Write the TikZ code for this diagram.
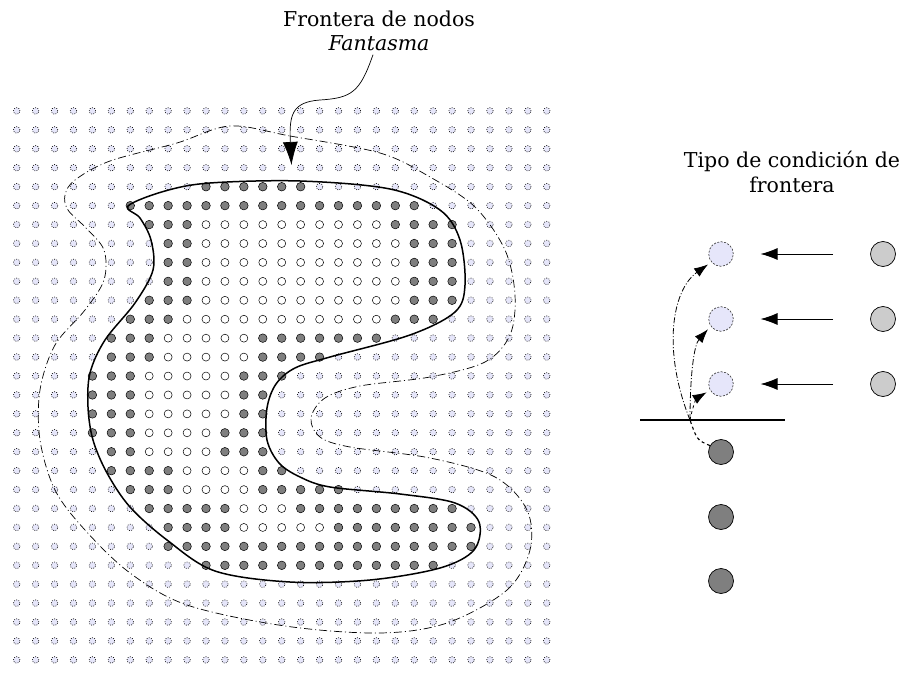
\documentclass[tikz,border=0pt]{standalone}
\usepackage{fontspec}
\setmainfont{DejaVu Serif}
\usetikzlibrary{arrows.meta}

\definecolor{ghostfill}{HTML}{E6E6FA}
\definecolor{bndfill}{HTML}{7F7F7F}
\definecolor{dirfill}{HTML}{CCCCCC}

% grid geometry (origin, spacing)
\def\gx{16.7}
\def\gy{111}
\def\gd{18.93}
\newcount\cellcol
% one grid row: #1 = row index, #2 = runs type/count (o ghost, g boundary, w interior)
\newcommand\cellrow[2]{%
  \global\cellcol=0
  \foreach \t/\n in {#2}{%
    \foreach \i in {1,...,\n}{%
      \node[cell\t] (c-#1-\the\cellcol) at ({\gx+\the\cellcol*\gd},{\gy+#1*\gd}) {};
      \global\advance\cellcol by 1
    }}}

\tikzset{
  cello/.style={circle, inner sep=0pt, minimum size=6.6pt, fill=ghostfill,
    draw=black, line width=0.6pt, dash pattern=on 0.9pt off 1.4pt},
  cellg/.style={circle, inner sep=0pt, minimum size=8.6pt, fill=bndfill,
    draw=black, line width=0.5pt},
  cellw/.style={circle, inner sep=0pt, minimum size=8pt, fill=white,
    draw=black, line width=0.5pt},
  boundary/.style={line width=1.5pt},
  halo/.style={line width=0.7pt, dash pattern=on 8pt off 3pt on 1pt off 3pt},
  lbl/.style={align=center, font=\fontsize{20.5}{24.5}\selectfont},
  legghost/.style={circle, inner sep=0pt, minimum size=24.6pt, fill=ghostfill,
    draw=black!80, line width=0.6pt, dash pattern=on 2pt off 1.5pt},
  legdir/.style={circle, inner sep=0pt, minimum size=25pt, fill=dirfill,
    draw=black, line width=0.7pt},
  legbnd/.style={circle, inner sep=0pt, minimum size=25pt, fill=bndfill,
    draw=black, line width=0.7pt},
  legarrow/.style={line width=0.8pt, -{Latex[length=17pt,width=12pt]}},
  copyarrow/.style={line width=0.8pt, -{Latex[length=14pt,width=10pt]}, shorten >=4pt},
}

\begin{document}
\begin{tikzpicture}[x=1pt,y=-1pt]
\useasboundingbox (0,0) rectangle (905,679);

% node lattice
\cellrow{0}{o/29}
\cellrow{1}{o/29}
\cellrow{2}{o/29}
\cellrow{3}{o/29}
\cellrow{4}{o/10,g/6,o/13}
\cellrow{5}{o/6,g/16,o/7}
\cellrow{6}{o/7,g/3,w/10,g/4,o/5}
\cellrow{7}{o/8,g/2,w/11,g/3,o/5}
\cellrow{8}{o/8,g/2,w/11,g/3,o/5}
\cellrow{9}{o/8,g/2,w/11,g/3,o/5}
\cellrow{10}{o/7,g/3,w/11,g/3,o/5}
\cellrow{11}{o/6,g/3,w/11,g/3,o/6}
\cellrow{12}{o/5,g/3,w/5,g/7,o/9}
\cellrow{13}{o/5,g/3,w/5,g/4,o/12}
\cellrow{14}{o/4,g/3,w/5,g/3,o/14}
\cellrow{15}{o/4,g/3,w/5,g/2,o/15}
\cellrow{16}{o/4,g/3,w/5,g/2,o/15}
\cellrow{17}{o/4,g/3,w/4,g/3,o/15}
\cellrow{18}{o/5,g/2,w/4,g/3,o/15}
\cellrow{19}{o/5,g/4,w/4,g/2,o/14}
\cellrow{20}{o/6,g/3,w/4,g/5,o/11}
\cellrow{21}{o/7,g/5,w/3,g/9,o/5}
\cellrow{22}{o/8,g/4,w/5,g/8,o/4}
\cellrow{23}{o/8,g/17,o/4}
\cellrow{24}{o/10,g/13,o/6}
\cellrow{25}{o/29}
\cellrow{26}{o/29}
\cellrow{27}{o/29}
\cellrow{28}{o/29}
\cellrow{29}{o/29}

% outer ghost-node frontier
\draw[halo] plot[smooth cycle, tension=0.55] coordinates {
  (230,126) (290,136) (380,153) (430,177) (475,207) (505,250) (515,295)
  (510,335) (485,362) (430,377) (360,386) (325,398) (311,418) (320,437)
  (350,447) (430,458) (495,477) (527,510) (530,550) (507,590) (447,623)
  (380,633) (285,626) (187,605) (130,573) (85,530) (55,490) (40,440)
  (40,390) (55,345) (85,310) (104,280) (104,250) (86,228) (68,210)
  (65,195) (75,180) (110,161) (177,143)};

% domain boundary
\draw[boundary] plot[smooth cycle, tension=0.55] coordinates {
  (128,206) (165,191) (210,183) (300,181) (390,189) (440,210) (460,240)
  (465,285) (455,312) (410,335) (330,357) (295,368) (276,384) (267,408)
  (267,440) (279,463) (300,477) (330,487) (400,494) (455,503) (479,522)
  (474,550) (440,568) (370,580) (290,582) (215,571) (167,540) (130,507)
  (107,473) (93,440) (88,407) (90,373) (105,340) (135,303) (153,270)
  (151,240) (140,218)};

% callout
\node[lbl] (ghostlbl) at (379,31) {Frontera de nodos\\\textit{Fantasma}};
\coordinate (ghosttip) at (291.5,165);
\draw[line width=0.7pt, -{Latex[length=23pt,width=15pt]}]
  ([xshift=-6pt]ghostlbl.south) .. controls (360,92) and (352,98) .. (320,100)
  .. controls (292,102) and (289,115) .. (ghosttip);

% legend
\node[lbl] (legtitle) at (792,172) {Tipo de condición de\\frontera};

\node[legghost] (g1) at (721,254) {};
\node[legghost] (g2) at (721,319) {};
\node[legghost] (g3) at (721,384) {};
\node[legdir] (d1) at (883,254) {};
\node[legdir] (d2) at (883,319) {};
\node[legdir] (d3) at (883,384) {};
\node[legbnd] (b1) at (721,452) {};
\node[legbnd] (b2) at (721,517) {};
\node[legbnd] (b3) at (721,581) {};

\draw[legarrow] ([xshift=-37pt]d1.west) -- ([xshift=27pt]g1.east);
\draw[legarrow] ([xshift=-37pt]d2.west) -- ([xshift=27pt]g2.east);
\draw[legarrow] ([xshift=-37pt]d3.west) -- ([xshift=27pt]g3.east);

\coordinate (wl) at (640,420);
\coordinate (wr) at (785,420);
\draw[line width=1.3pt] (wl) -- (wr);

\coordinate (mirror) at (690,420);
\draw[line width=1.1pt, dashed] (b1.150) .. controls (697,440) .. (mirror);
\draw[copyarrow, dash pattern=on 6pt off 2pt on 1pt off 2pt]
  (mirror) .. controls (662,350) and (672,290) .. (g1.220);
\draw[copyarrow, dash pattern=on 6pt off 2pt on 1pt off 2pt]
  (mirror) .. controls (690,375) and (694,345) .. (g2.215);
\draw[copyarrow, dashed]
  (mirror) .. controls (692,408) and (697,398) .. (g3.210);
\end{tikzpicture}
\end{document}
